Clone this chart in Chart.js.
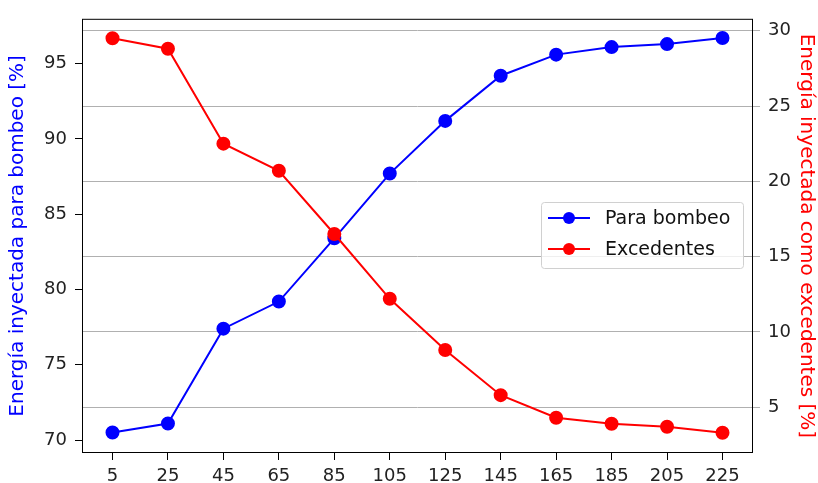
<!DOCTYPE html>
<html>
<head>
<meta charset="utf-8">
<script src="https://cdn.jsdelivr.net/npm/chart.js@4"></script>
<style>
  html, body { margin: 0; padding: 0; background: #fff; }
  #wrap { width: 818px; height: 483px; }
</style>
</head>
<body>
<div id="wrap"><canvas id="myChart" width="818" height="483"></canvas></div>
<script>
// datos del gráfico
var categorias = [5, 25, 45, 65, 85, 105, 125, 145, 165, 185, 205, 225];
var paraBombeo = [70.5, 71.1, 77.4, 79.2, 83.4, 87.7, 91.2, 94.2, 95.6, 96.1, 96.3, 96.7];
var excedentes = [29.5, 28.8, 22.5, 20.7, 16.5, 12.2, 8.8, 5.8, 4.3, 3.9, 3.7, 3.3];
var ticksIzq = [70, 75, 80, 85, 90, 95];
var ticksDer = [5, 10, 15, 20, 25, 30];

var fuente = 'DejaVu Sans';

// leyenda dentro del área y marco negro alrededor
var marcoYLeyenda = {
    id: 'marcoYLeyenda',
    afterDatasetsDraw: function (chart) {
        var ctx = chart.ctx;
        var a = chart.chartArea;
        ctx.save();
        ctx.strokeStyle = '#000';
        ctx.lineWidth = 1;
        ctx.strokeRect(a.left + 0.5, a.top + 0.5, a.right - a.left - 1, a.bottom - a.top - 1);

        // leyenda
        var x = a.right - 212, y = 202, w = 202, h = 66;
        ctx.fillStyle = 'rgba(255,255,255,0.8)';
        ctx.strokeStyle = '#d0d0d0';
        ctx.beginPath();
        ctx.roundRect(x + 0.5, y + 0.5, w, h, 3);
        ctx.fill();
        ctx.stroke();
        ctx.font = '19px ' + fuente;
        ctx.textBaseline = 'middle';
        chart.data.datasets.forEach(function (ds, i) {
            var yy = y + 16 + i * 31;
            ctx.strokeStyle = ds.borderColor;
            ctx.lineWidth = 2;
            ctx.beginPath();
            ctx.moveTo(x + 7, yy);
            ctx.lineTo(x + 49, yy);
            ctx.stroke();
            ctx.fillStyle = ds.borderColor;
            ctx.beginPath();
            ctx.arc(x + 28, yy, 6, 0, Math.PI * 2);
            ctx.fill();
            ctx.fillStyle = '#111';
            ctx.fillText(ds.label, x + 64, yy + 1);
        });
        ctx.restore();
    }
};

var ctx = document.getElementById('myChart').getContext('2d');
var myChart = new Chart(ctx, {
    type: 'line',
    data: {
        datasets: [{
            label: 'Para bombeo',
            data: categorias.map(function (c, i) { return { x: c, y: paraBombeo[i] }; }),
            borderColor: '#0000ff',
            backgroundColor: '#0000ff',
            borderWidth: 2,
            pointRadius: 6,
            pointHoverRadius: 6,
            yAxisID: 'y',
            order: 1
        }, {
            label: 'Excedentes',
            data: categorias.map(function (c, i) { return { x: c, y: excedentes[i] }; }),
            borderColor: '#ff0000',
            backgroundColor: '#ff0000',
            borderWidth: 2,
            pointRadius: 6,
            pointHoverRadius: 6,
            yAxisID: 'y2',
            order: 0
        }]
    },
    options: {
        responsive: false,
        animation: false,
        layout: { padding: { top: 17, left: 0, right: 0, bottom: 0 } },
        plugins: {
            legend: { display: false },
            tooltip: { enabled: false }
        },
        scales: {
            x: {
                type: 'linear',
                min: -6,
                max: 236,
                afterBuildTicks: function (s) { s.ticks = categorias.map(function (v) { return { value: v }; }); },
                afterFit: function (s) { s.height = 30; },
                grid: { drawOnChartArea: false, tickLength: 7, color: '#000' },
                border: { display: false },
                ticks: { color: '#222', font: { family: fuente, size: 18 }, padding: 6, maxRotation: 0, autoSkip: false }
            },
            y: {
                position: 'left',
                min: 69.14,
                max: 97.98,
                afterBuildTicks: function (s) { s.ticks = ticksIzq.map(function (v) { return { value: v }; }); },
                afterFit: function (s) { s.width = 82; },
                grid: { drawOnChartArea: false, tickLength: 7, color: '#000' },
                border: { display: false },
                ticks: { color: '#222', font: { family: fuente, size: 18 }, padding: 8 },
                title: { display: true, text: 'Energía inyectada para bombeo [%]', color: '#0000ff', font: { family: fuente, size: 20 }, padding: { top: 6, bottom: 4 } }
            },
            y2: {
                position: 'right',
                min: 1.96,
                max: 30.79,
                afterBuildTicks: function (s) { s.ticks = ticksDer.map(function (v) { return { value: v }; }); },
                afterFit: function (s) { s.width = 65; },
                grid: { drawOnChartArea: true, tickLength: 7, color: '#b0b0b0', lineWidth: 1 },
                border: { display: false },
                ticks: { color: '#222', font: { family: fuente, size: 18 }, padding: 8 },
                title: { display: true, text: 'Energía inyectada como excedentes [%]', color: '#ff0000', font: { family: fuente, size: 20 }, padding: { top: 0, bottom: 0 } }
            }
        }
    },
    plugins: [marcoYLeyenda]
});
</script>
</body>
</html>
